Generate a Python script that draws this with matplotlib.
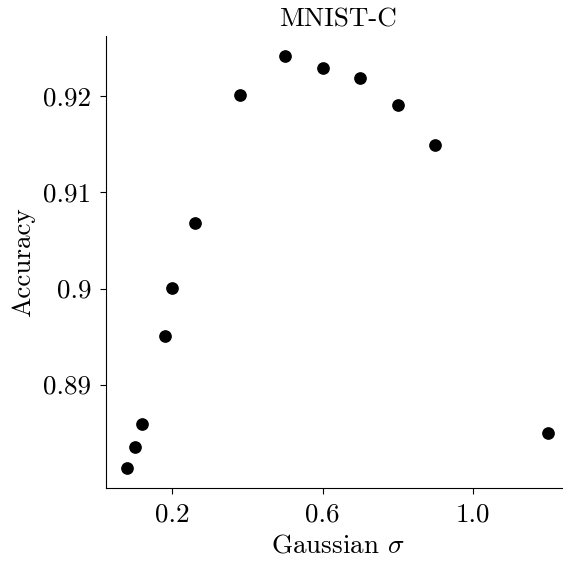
import numpy as np
import matplotlib
matplotlib.use("Agg")
import matplotlib.pyplot as plt

# fuentes tipo LaTeX (Computer Modern)
plt.rcParams['font.family'] = 'serif'
plt.rcParams['font.serif'] = ['cmr10']
plt.rcParams['mathtext.fontset'] = 'cm'
plt.rcParams['axes.unicode_minus'] = False

# datos
sigma = [0.08, 0.10, 0.12, 0.18, 0.20, 0.26, 0.38, 0.50, 0.60, 0.70, 0.80, 0.90, 1.20]
accuracy = [0.8813, 0.8835, 0.8859, 0.8951, 0.9001, 0.9068, 0.9201,
            0.9242, 0.9229, 0.9219, 0.9191, 0.9149, 0.8850]

x_ticks = [0.2, 0.6, 1.0]
x_tick_labels = ["0.2", "0.6", "1.0"]
y_ticks = [0.89, 0.90, 0.91, 0.92]
y_tick_labels = ["0.89", "0.9", "0.91", "0.92"]

fs = 19.5

fig = plt.figure(figsize=(5.63, 5.61), dpi=100)
ax = fig.add_axes([106 / 563, (561 - 488.4) / 561, (569 - 106) / 563, (488.4 - 35.8) / 561])

ax.scatter(sigma, accuracy, s=66, color='black', zorder=3)

ax.set_xlim(0.0234, 1.256)
ax.set_ylim(0.8792, 0.9263)

ax.set_xticks(x_ticks)
ax.set_xticklabels(x_tick_labels)
ax.set_yticks(y_ticks)
ax.set_yticklabels(y_tick_labels)
ax.tick_params(labelsize=fs, length=4.5, width=0.8)
ax.tick_params(axis='y', pad=6)
ax.tick_params(axis='x', pad=6)

ax.spines['top'].set_visible(False)
ax.spines['right'].set_visible(False)

ax.set_title("MNIST-C", fontsize=fs, pad=7)
ax.set_xlabel(r"Gaussian $\sigma$", fontsize=fs, labelpad=5)
ax.set_ylabel("Accuracy", fontsize=fs, labelpad=6)

fig.savefig("out.png", dpi=100)
